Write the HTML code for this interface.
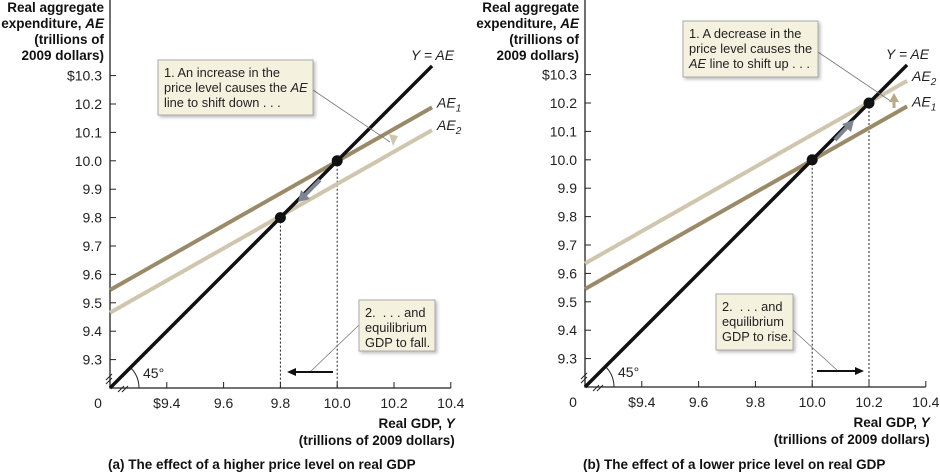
<!DOCTYPE html>
<html><head><meta charset="utf-8"><style>
body{margin:0;background:#fff;}
svg{display:block;font-family:"Liberation Sans",Arial,sans-serif;}
.t{font-size:14px;fill:#222;}
.b{font-size:13.5px;font-weight:bold;fill:#111;}
.c{font-size:12.8px;fill:#222;}
</style></head><body>
<svg id="chart" width="940" height="472" viewBox="0 0 940 472">
<defs>
<filter id="sh" x="-10%" y="-10%" width="130%" height="130%"><feDropShadow dx="2" dy="2" stdDeviation="1.5" flood-color="#000" flood-opacity="0.25"/></filter>
</defs>
</svg>
<script>
const yTicks=[9.3,9.4,9.5,9.6,9.7,9.8,9.9,10.0,10.1,10.2,10.3];
const xTicks=[9.4,9.6,9.8,10.0,10.2,10.4];
const xEnd=10.334;
const slopeAE=0.567;
const aeIntercepts_a=[9.545,9.465]; // AE1, AE2 at Y=9.2
const aeIntercepts_b=[9.545,9.635];
const equilibria_a=[10.0,9.8];
const equilibria_b=[10.0,10.2];
const S=284,ORIG=9.2;
const svg=document.getElementById('chart');
const NS='http://www.w3.org/2000/svg';
function mk(tag,attrs,parent,text){const e=document.createElementNS(NS,tag);for(const k in attrs)e.setAttribute(k,attrs[k]);if(text!==undefined)e.textContent=text;(parent||svg).appendChild(e);return e;}
function panel(ox,oy,ints,eqs,which){
  const X=v=>ox+(v-ORIG)*S, Y=v=>oy-(v-ORIG)*S;
  const g=mk('g',{});
  
  
  const ax=mk('path',{d:`M${ox},0 V${oy} H${X(10.4)}`,stroke:'#222','stroke-width':1.3,fill:'none'},g);
  
  yTicks.forEach(v=>{mk('line',{x1:ox,x2:ox+6,y1:Y(v),y2:Y(v),stroke:'#222'},g);
    const t=mk('text',{x:ox-8,y:Y(v)+5,'text-anchor':'end',class:'t'},g,(v===10.3?'$':'')+v.toFixed(1));
    });
  xTicks.forEach(v=>{mk('line',{x1:X(v),x2:X(v),y1:oy,y2:oy-6,stroke:'#222'},g);
    const t=mk('text',{x:X(v),y:oy+20,'text-anchor':'middle',class:'t'},g,(v===9.4?'$':'')+v.toFixed(1));
    });
  mk('text',{x:ox-12,y:oy+20,'text-anchor':'middle',class:'t'},g,'0');
  mk('path',{d:`M${ox-4},${oy-8} l6,-6 M${ox-4},${oy-4} l6,-6 M${ox+8},${oy+4} l6,-6 M${ox+12},${oy+4} l6,-6`,stroke:'#222','stroke-width':1},g);
  mk('path',{d:`M${ox+29},${oy} A29,29 0 0 0 ${ox+20.5},${oy-20.5}`,stroke:'#222',fill:'none'},g);
  mk('text',{x:ox+33,y:oy-10,class:'t'},g,'45°');
  eqs.forEach(v=>{const l=mk('line',{x1:X(v),x2:X(v),y1:Y(v),y2:oy,stroke:'#222','stroke-dasharray':'2,2'},g);
    });
  const cols=['#9b8a68','#cfc6ad'];
  ints.forEach((b,i)=>{const l=mk('line',{x1:X(ORIG),y1:Y(b),x2:X(xEnd),y2:Y(b+slopeAE*(xEnd-ORIG)),stroke:cols[i],'stroke-width':4},g);
    });
  const l45=mk('line',{x1:X(ORIG),y1:Y(ORIG),x2:X(xEnd),y2:Y(xEnd),stroke:'#111','stroke-width':3.5},g);
  
  eqs.forEach(v=>{const c=mk('circle',{cx:X(v),cy:Y(v),r:5.5,fill:'#111'},g);
    });
  mk('text',{x:X(xEnd)+22,y:Y(xEnd)-6,'text-anchor':'end',class:'t','font-style':'italic'},g,'Y = AE');
  ints.forEach((b,i)=>{const yy=Y(b+slopeAE*(xEnd-ORIG));const t=mk('text',{x:X(xEnd)+5,y:yy,class:'t','font-style':'italic'},g);
    
    t.innerHTML='AE<tspan font-size="10" dy="4">'+(i+1)+'</tspan>';});
  const yl=['Real aggregate','expenditure, <tspan font-style="italic">AE</tspan>','(trillions of','2009 dollars)'];
  yl.forEach((s,i)=>{const t=mk('text',{x:ox-6,y:12+i*16,'text-anchor':'end',class:'b','font-size':'13'},g);t.innerHTML=s;});
  mk('text',{x:X(10.4)+4,y:oy+40,'text-anchor':'end',class:'b'},g).innerHTML='Real GDP, <tspan font-style="italic">Y</tspan>';
  mk('text',{x:X(10.4)+4,y:oy+57,'text-anchor':'end',class:'b'},g,'(trillions of 2009 dollars)');
  return {X,Y,g};
}
let p=panel(110,388,aeIntercepts_a,equilibria_a,'a');
let g=p.g;
function box(x,y,w,h,lines,g,name){const r=mk('rect',{x,y,width:w,height:h,fill:'#f4f1df',stroke:'#aaa',filter:'url(#sh)'},g);
  
  lines.forEach((s,i)=>{mk('text',{x:x+6,y:y+17+i*15,class:'c'},g).innerHTML=s;});}
mk('line',{x1:313,y1:90,x2:390,y2:142,stroke:'#777','stroke-width':0.8},g);
box(158,60,155,55,['1. An increase in the','price level causes the <tspan font-style="italic">AE</tspan>','line to shift down . . .'],g,'callout-1');
mk('path',{d:'M389,134 l4,12 l5,-10 z',fill:'#cfc6ad'},g);
mk('path',{d:'M320,180 L304,196',stroke:'#7f8590','stroke-width':4},g);
mk('path',{d:'M298,202 l3,-12 l9,9 z',fill:'#7f8590'},g);
mk('line',{x1:359,y1:325,x2:310,y2:372,stroke:'#777','stroke-width':0.8},g);
box(359,300,76,51,['2. &#160;. . . and','equilibrium','GDP to fall.'],g,'callout-2');
mk('line',{x1:333,y1:372,x2:294,y2:372,stroke:'#111','stroke-width':2},g);
mk('path',{d:'M287,372 l9,-4 v8 z',fill:'#111'},g);
mk('text',{x:108,y:469,class:'b','font-size':'13'},g,'(a) The effect of a higher price level on real GDP');
p=panel(585,387,aeIntercepts_b,equilibria_b,'b');
g=p.g;
mk('line',{x1:818,y1:52,x2:892,y2:102,stroke:'#777','stroke-width':0.8},g);
box(683,21,135,56,['1. A decrease in the','price level causes the','<tspan font-style="italic">AE</tspan> line to shift up . . .'],g,'callout-1');
mk('path',{d:'M894,108 v-6',stroke:'#b7aa88','stroke-width':3},g);
mk('path',{d:'M889,102 l5,-9 l5,9 z',fill:'#b7aa88'},g);
mk('path',{d:'M835,140 L848,126',stroke:'#7f8590','stroke-width':4},g);
mk('path',{d:'M854,120 l-3,12 l-9,-8 z',fill:'#7f8590'},g);
mk('line',{x1:793,y1:330,x2:838,y2:371,stroke:'#777','stroke-width':0.8},g);
box(716,294,77,56,['2. &#160;. . . and','equilibrium','GDP to rise.'],g,'callout-2');
mk('line',{x1:817,y1:371,x2:857,y2:371,stroke:'#111','stroke-width':2},g);
mk('path',{d:'M864,371 l-9,-4 v8 z',fill:'#111'},g);
mk('text',{x:583,y:469,class:'b','font-size':'13'},g,'(b) The effect of a lower price level on real GDP');
</script>
</body></html>
